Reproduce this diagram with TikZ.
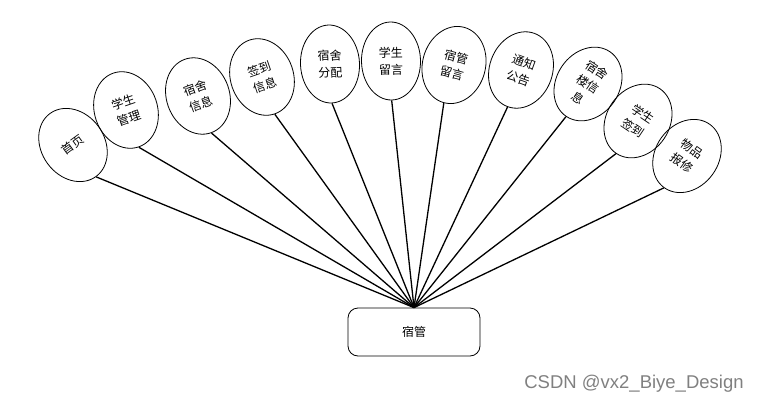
\documentclass[tikz,border=0pt]{standalone}
\usepackage{fontspec}
\setmainfont{Liberation Sans}
\newfontfamily\cjk{Noto Sans CJK SC}
\usetikzlibrary{shapes.geometric}
\begin{document}
\begin{tikzpicture}[x=1pt,y=-1pt,
  topic/.style={ellipse,draw,line width=0.8pt,minimum width=63pt,minimum height=78pt,inner sep=0pt,align=center,font=\cjk\fontsize{12}{17}\selectfont},
  link/.style={line width=1.3pt},
  rolebox/.style={draw,line width=0.8pt,rounded corners=10pt,minimum width=132pt,minimum height=48pt,font=\cjk\fontsize{12}{14}\selectfont}]
\useasboundingbox (0,0) rectangle (757,404);
\node[rolebox] (hub) at (414,332) {宿管};
\node[topic,rotate=36] (e1) at (73,145) {首页};
\node[topic,rotate=19] (e2) at (126,110) {学生\\管理};
\node[topic,rotate=20] (e3) at (198,96) {宿舍\\信息};
\node[topic,rotate=19] (e4) at (262,77) {签到\\信息};
\node[topic,rotate=3,minimum width=59pt] (e5) at (330,64) {宿舍\\分配};
\node[topic,rotate=1,minimum width=59pt] (e6) at (391,61) {学生\\留言};
\node[topic,rotate=-15] (e7) at (454,65) {宿管\\留言};
\node[topic,rotate=-20] (e8) at (521,70) {通知\\公告};
\node[topic,rotate=-34] (e9) at (588,84) {宿舍\\楼信\\息};
\node[topic,rotate=-34] (e10) at (638,121) {学生\\签到};
\node[topic,rotate=-36] (e11) at (687,156) {物品\\报修};
\foreach \i in {1,...,11} {\draw[link] (e\i.south) -- (hub.north);}
\node[text=gray,font=\fontsize{18.5}{20}\selectfont] (wm) at (634,384) {CSDN @vx2\_Biye\_Design};
\end{tikzpicture}
\end{document}
